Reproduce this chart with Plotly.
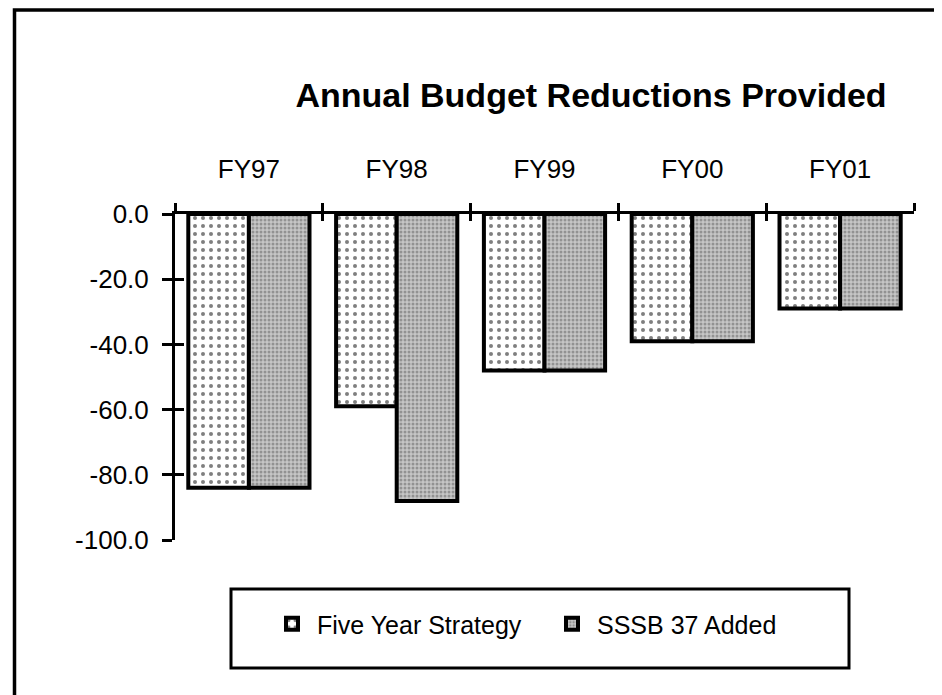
import plotly.graph_objects as go

categories = ["FY97", "FY98", "FY99", "FY00", "FY01"]
five_year = [-84, -59, -48, -39, -29]
sssb_added = [-84, -88, -48, -39, -29]
y_ticks = [0, -20, -40, -60, -80, -100]
y_tick_text = ["0.0", "-20.0", "-40.0", "-60.0", "-80.0", "-100.0"]

FONT = "Liberation Sans, Arial, sans-serif"
OFF = 8  # browser body margin
W, H = 942 - OFF, 695 - OFF
L = 175 - OFF
T = 214 - OFF
R = W - (914 - OFF)
B = H - (540 - OFF)
pw, ph = W - L - R, H - T - B

def px_x(x):
    return (x - OFF - L) / pw

def px_y(y):
    return (H - B - (y - OFF)) / ph

fig = go.Figure()
fig.add_trace(go.Bar(
    x=categories, y=five_year, name="Five Year Strategy",
    marker=dict(color="white", line=dict(color="black", width=4),
                pattern=dict(shape=".", fgcolor="black", bgcolor="white",
                             size=8, solidity=0.2)),
))
fig.add_trace(go.Bar(
    x=categories, y=sssb_added, name="SSSB 37 Added",
    marker=dict(color="#b0b0b0", line=dict(color="black", width=4),
                pattern=dict(shape=".", fgcolor="#5e5e5e", bgcolor="#c6c6c6",
                             size=4, solidity=0.45)),
))
# empty helper trace binding the overlay axes (crossing tick marks)
fig.add_trace(go.Scatter(x=[], y=[], xaxis="x2", yaxis="y2", showlegend=False))

fig.update_layout(
    width=W, height=H,
    margin=dict(l=L, r=R, t=T, b=B, pad=0),
    paper_bgcolor="white", plot_bgcolor="white",
    barmode="group", bargap=0.18, bargroupgap=0,
    font=dict(family=FONT, size=26, color="black"),
    title=dict(text="<b>Annual Budget Reductions Provided</b>",
               font=dict(family=FONT, size=34, color="black"),
               xref="container", yref="container",
               x=(591 - OFF) / W, xanchor="center",
               y=1 - (95 - OFF) / H, yanchor="middle"),
    xaxis=dict(type="category", side="top", range=[-0.5, 4.5],
               showline=True, linecolor="black", linewidth=3,
               ticks="outside", tickson="boundaries", ticklen=8, tickwidth=3,
               tickcolor="black", showgrid=False, zeroline=False,
               ticklabelstandoff=23, tickfont=dict(size=26)),
    xaxis2=dict(overlaying="x", anchor="y", side="top", range=[-0.5, 4.5],
                tickvals=[-0.5, 0.5, 1.5, 2.5, 3.5, 4.5], ticks="inside",
                ticklen=7, tickwidth=3, tickcolor="black",
                showticklabels=False, showgrid=False, zeroline=False, showline=False),
    yaxis=dict(range=[-100, 0], tickvals=y_ticks, ticktext=y_tick_text,
               showline=True, linecolor="black", linewidth=3,
               ticks="outside", ticklen=10, tickwidth=3, tickcolor="black",
               showgrid=False, zeroline=False, ticklabelstandoff=8,
               tickfont=dict(size=26)),
    yaxis2=dict(overlaying="y", anchor="x", range=[-100, 0], tickvals=y_ticks,
                ticks="inside", ticklen=9, tickwidth=3, tickcolor="black",
                showticklabels=False, showgrid=False, zeroline=False, showline=False),
    showlegend=True,
    legend=dict(orientation="h", x=px_x(267), xanchor="left",
                y=px_y(624), yanchor="middle",
                font=dict(family=FONT, size=25, color="black"),
                bgcolor="rgba(0,0,0,0)", borderwidth=0,
                entrywidth=225, entrywidthmode="pixels", itemwidth=40),
    shapes=[
        dict(type="rect", xref="paper", yref="paper",
             x0=px_x(231), x1=px_x(849), y0=px_y(668), y1=px_y(589),
             line=dict(color="black", width=3), fillcolor="rgba(0,0,0,0)",
             layer="below"),
        dict(type="rect", xref="paper", yref="paper",
             x0=px_x(14.5), x1=px_x(1000), y0=px_y(760), y1=px_y(10),
             line=dict(color="black", width=3.5), fillcolor="rgba(0,0,0,0)",
             layer="below"),
    ],
)

fig.write_html("out.html")
